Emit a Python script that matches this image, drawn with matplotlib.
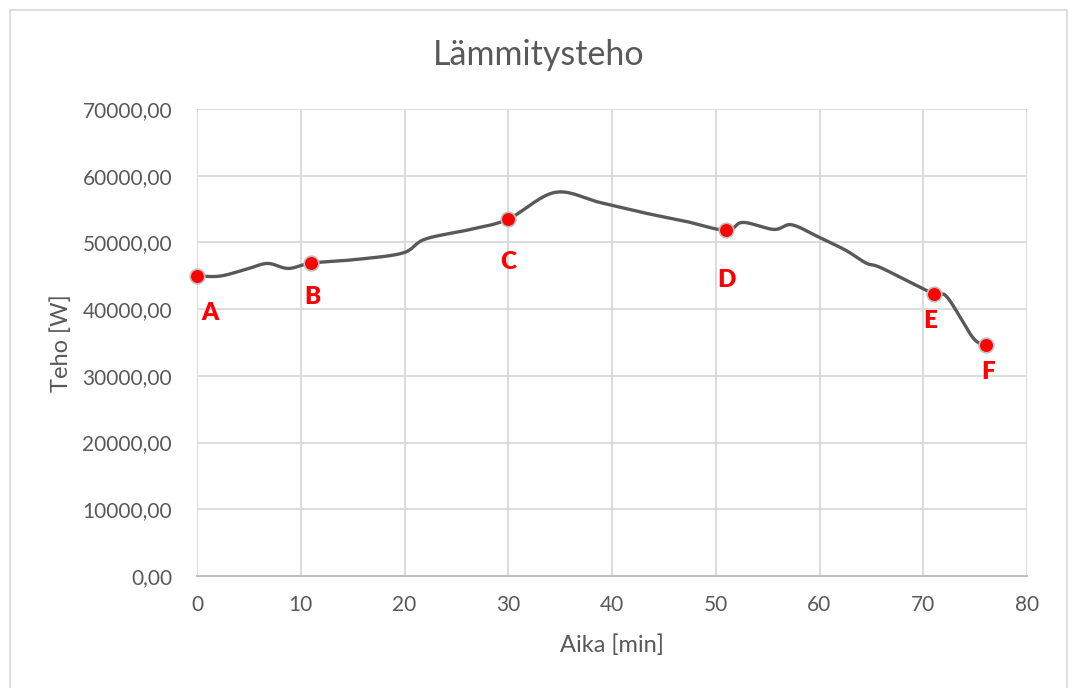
import numpy as np
import matplotlib
matplotlib.use("Agg")
import matplotlib.pyplot as plt
from matplotlib.ticker import FuncFormatter, MultipleLocator
from matplotlib.patches import Rectangle

plt.rcParams['font.family'] = ['Lato', 'DejaVu Sans']

# Data
time_min = [0, 2.2, 4.8, 6.8, 8.8, 11, 15, 19.8, 22, 26.5, 30, 34.5, 38.8, 43.5, 47, 51,
            52.6, 55.6, 57.3, 59.8, 62.5, 64.5, 66, 71, 72.3, 74.8, 76]
power_w = [45000, 44950, 46000, 46850, 46100, 46900, 47400, 48400, 50500, 52000, 53500, 57500,
           56000, 54300, 53200, 51800, 53000, 51950, 52650, 50900, 48850, 46900, 46150, 42300,
           41800, 35700, 34700]

marker_time = [0, 11, 30, 51, 71, 76]
marker_power = [45000, 46900, 53500, 51800, 42300, 34700]
marker_labels = ['A', 'B', 'C', 'D', 'E', 'F']
label_offsets_px = [(13, -37), (1, -34), (0, -43), (0, -50), (-3, -27), (3, -27)]

x_ticks = list(range(0, 81, 10))

title = "Lämmitysteho"
xlabel = "Aika [min]"
ylabel = "Teho [W]"


def excel_smooth(xs, ys, n=30):
    xs = np.asarray(xs, float)
    ys = np.asarray(ys, float)
    P = np.column_stack([xs, ys])
    out = []
    N = len(P)
    for i in range(N - 1):
        p0 = P[i - 1] if i > 0 else P[i]
        p1 = P[i]
        p2 = P[i + 1]
        p3 = P[i + 2] if i + 2 < N else P[i + 1]
        c1 = p1 + (p2 - p0) / 6.0
        c2 = p2 - (p3 - p1) / 6.0
        t = np.linspace(0, 1, n, endpoint=(i == N - 2))[:, None]
        seg = ((1 - t) ** 3) * p1 + 3 * ((1 - t) ** 2) * t * c1 + 3 * (1 - t) * t ** 2 * c2 + t ** 3 * p2
        out.append(seg)
    out = np.vstack(out)
    return out[:, 0], out[:, 1]


W, H = 1069, 688
fig = plt.figure(figsize=(W / 100, H / 100), dpi=100)
ax = fig.add_axes([197 / W, 1 - 576 / H, (1027 - 197) / W, (576 - 109) / H])

sx, sy = excel_smooth(time_min, power_w)
ax.plot(sx, sy, color='#595959', lw=2.4, solid_capstyle='round', zorder=3, clip_on=False)
ax.plot(marker_time, marker_power, linestyle='none', marker='o', markersize=10.5,
        markerfacecolor='#ff0000', markeredgecolor='#bfbfbf', markeredgewidth=1.2, zorder=4,
        clip_on=False)

for xv, yv, lab, (dx, dy) in zip(marker_time, marker_power, marker_labels, label_offsets_px):
    ax.annotate(lab, (xv, yv), xytext=(dx * 0.72, dy * 0.72), textcoords='offset points',
                ha='center', va='center', color='#ff0000', fontsize=17.5, fontweight='heavy',
                zorder=5)

ax.set_xlim(0, 80)
ax.set_ylim(0, 70000)
ax.set_xticks(x_ticks)
ax.yaxis.set_major_locator(MultipleLocator(10000))
ax.yaxis.set_major_formatter(FuncFormatter(lambda v, p: f"{v:.2f}".replace('.', ',')))
ax.grid(True, color='#d9d9d9', lw=1.3, zorder=0)
ax.set_axisbelow(True)
for s in ['top', 'right', 'left']:
    ax.spines[s].set_visible(False)
ax.spines['bottom'].set_color('#bfbfbf')
ax.spines['bottom'].set_linewidth(1.5)
ax.tick_params(axis='both', length=0, labelsize=15, labelcolor='#595959')
ax.tick_params(axis='y', pad=18)
ax.tick_params(axis='x', pad=14)

fig.text(539 / W, 1 - 55 / H, title, ha='center', va='center', fontsize=24.5,
         color='#595959', fontweight='normal')
fig.text(612 / W, 1 - 645 / H, xlabel, ha='center', va='center', fontsize=17, color='#595959')
fig.text(61 / W, 1 - 343 / H, ylabel, ha='center', va='center', fontsize=17, color='#595959',
         rotation=90)

fig.patches.append(Rectangle((10 / W, -0.02), (1067 - 10) / W, (H - 10) / H + 0.02,
                             transform=fig.transFigure, fill=False, edgecolor='#d9d9d9', lw=1.2))

fig.savefig('out.png', dpi=100, facecolor='white')
